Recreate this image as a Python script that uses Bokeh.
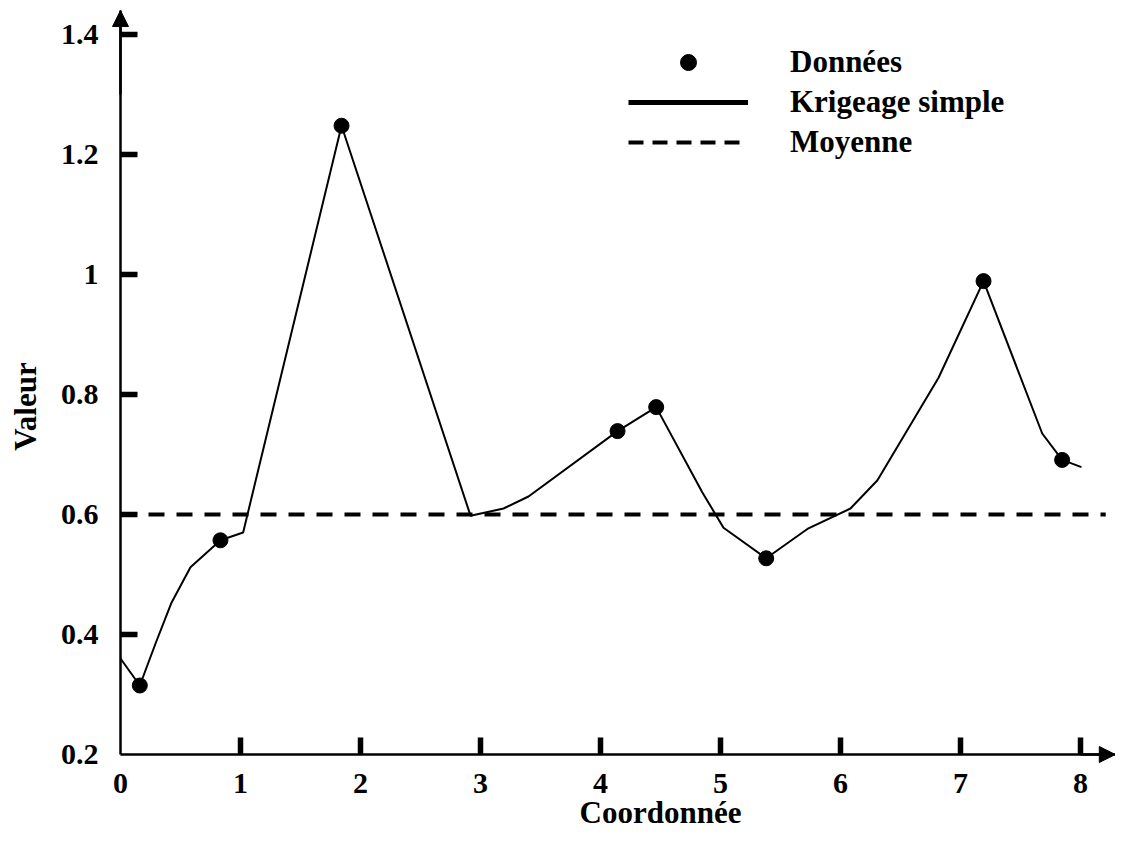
import math
from bokeh.plotting import figure
from bokeh.models import (FixedTicker, Range1d, Arrow, NormalHead, Legend,
                          LegendItem, Label)
from bokeh.embed import file_html
from bokeh.resources import INLINE

# ---- data ----
data_x = [0.161, 0.833, 1.842, 4.142, 4.464, 5.381, 7.192, 7.847]
data_y = [0.315, 0.557, 1.248, 0.739, 0.779, 0.527, 0.989, 0.691]

krig_x = [0.0, 0.161, 0.292, 0.425, 0.583, 0.833, 1.022, 1.842, 2.917, 3.192,
          3.40, 4.142, 4.464, 4.848, 5.025, 5.381, 5.733, 6.083, 6.308, 6.817,
          7.192, 7.681, 7.847, 8.008]
krig_y = [0.36, 0.315, 0.385, 0.453, 0.512, 0.557, 0.570, 1.248, 0.598, 0.610,
          0.630, 0.739, 0.779, 0.637, 0.578, 0.527, 0.577, 0.610, 0.657, 0.828,
          0.989, 0.735, 0.691, 0.679]

mean_value = 0.6
mean_x = [0.0, 8.21]

x_ticks = [0, 1, 2, 3, 4, 5, 6, 7, 8]
x_tick_labels = ["0", "1", "2", "3", "4", "5", "6", "7", "8"]
x_tick_marks = [1, 2, 3, 4, 5, 6, 7, 8]
y_ticks = [0.2, 0.4, 0.6, 0.8, 1.0, 1.2, 1.4]
y_tick_labels = ["0.2", "0.4", "0.6", "0.8", "1", "1.2", "1.4"]
y_tick_marks = [0.4, 0.6, 0.8, 1.0, 1.2, 1.4]

x_min, x_max = 0.0, 8.29
y_min, y_max = 0.2, 1.44

label_data = "Données"
label_krig = "Krigeage simple"
label_mean = "Moyenne"
x_title = "Coordonnée"
y_title = "Valeur"

FONT = "Liberation Serif"

# frame fills the whole canvas; axes are pinned at x=0 and y=0.2
p = figure(width=1115, height=832, output_backend="svg", toolbar_location=None,
           x_range=Range1d(-1.0, 8.2917), y_range=Range1d(0.07, 1.4567),
           min_border=0)
p.outline_line_color = None
p.grid.visible = False
p.background_fill_color = "white"
p.border_fill_color = "white"

p.xaxis.fixed_location = y_min
p.yaxis.fixed_location = x_min
p.xaxis.bounds = (x_min, x_max)
p.yaxis.bounds = (y_min, y_max)

for ax, ticks, marks, labels in ((p.xaxis, x_ticks, x_tick_marks, x_tick_labels),
                                 (p.yaxis, y_ticks, y_tick_marks, y_tick_labels)):
    ax.ticker = FixedTicker(ticks=ticks, minor_ticks=marks)
    ax.major_label_overrides = dict(zip(ticks, labels))
    ax.major_tick_in = 0
    ax.major_tick_out = 0
    ax.minor_tick_in = 17
    ax.minor_tick_out = 0
    ax.minor_tick_line_width = 5.5
    ax.minor_tick_line_color = "black"
    ax.axis_line_width = 2.5
    ax.axis_line_color = "black"
    ax.major_label_text_font = FONT
    ax.major_label_text_font_style = "bold"
    ax.major_label_text_font_size = "30px"
    ax.major_label_text_color = "black"

p.xaxis.major_label_standoff = 19
p.yaxis.major_label_standoff = 22

# mean line
p.line(mean_x, [mean_value] * len(mean_x), line_color="black", line_width=4,
       line_dash="16 12")
# kriging line
p.line(krig_x, krig_y, line_color="black", line_width=2)
# data points
p.scatter(data_x, data_y, size=15, color="black")

# axis arrows
p.add_layout(Arrow(end=NormalHead(size=16, fill_color="black", line_color="black"),
                   line_width=2.5, line_color="black",
                   x_start=x_min, y_start=1.3, x_end=x_min, y_end=y_max))
p.add_layout(Arrow(end=NormalHead(size=16, fill_color="black", line_color="black"),
                   line_width=2.5, line_color="black",
                   x_start=8.0, y_start=y_min, x_end=x_max, y_end=y_min))

# legend proxies (no visible data)
nan = float("nan")
lp = p.scatter([nan], [nan], size=13, color="black")
ll = p.line([nan], [nan], line_color="black", line_width=5)
lm = p.line([nan], [nan], line_color="black", line_width=4, line_dash="15 9")
legend = Legend(items=[LegendItem(label=label_data, renderers=[lp]),
                       LegendItem(label=label_krig, renderers=[ll]),
                       LegendItem(label=label_mean, renderers=[lm])],
                location=(628, 670), glyph_width=120, glyph_height=40,
                label_height=40, spacing=0, padding=0, margin=0,
                label_standoff=42, border_line_alpha=0,
                background_fill_alpha=0, label_text_font=FONT,
                label_text_font_style="bold", label_text_font_size="31px",
                label_text_color="black")
p.add_layout(legend)

# axis titles
p.add_layout(Label(x=4.5, y=0.1033, text=x_title, text_align="center",
                   text_baseline="middle", text_font=FONT,
                   text_font_style="bold", text_font_size="31px",
                   text_color="black"))
p.add_layout(Label(x=-0.792, y=0.78, text=y_title, text_align="center",
                   text_baseline="middle", angle=math.pi / 2,
                   text_font=FONT, text_font_style="bold",
                   text_font_size="31px", text_color="black"))

open("out.html", "w").write(file_html(p, INLINE))
